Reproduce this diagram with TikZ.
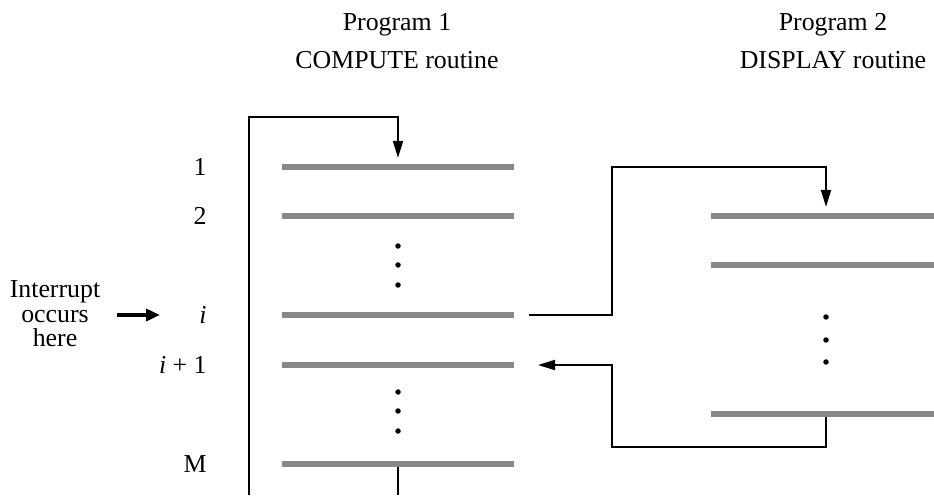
\documentclass[tikz,border=0pt]{standalone}
\usepackage{fontspec}
\setmainfont{Liberation Serif}
\usetikzlibrary{
  positioning,
  arrows.meta,
  calc
}
\definecolor{ctGray}{HTML}{888888}

\begin{document}
\begin{tikzpicture}[
  every node/.style={font=\fontsize{14.7}{14}\selectfont, align=center},
  codeline/.style={
    rectangle, fill=ctGray, inner sep=0pt,
    minimum height=0.11cm
  },
  lineA/.style={codeline, minimum width=4.64cm},
  lineB/.style={codeline, minimum width=4.46cm},
  numlbl/.style={anchor=east, inner sep=0pt},
  dotmark/.style={circle, fill=black, inner sep=0pt, minimum size=0.11cm},
  arrow/.style={-{Triangle[length=3.4mm, width=2mm]}, line width=1.1pt},
  link/.style={line width=1.1pt}
]
 \useasboundingbox (0,0) rectangle (18.68,9.9);

 % Headings
 \node (p1) at (7.94,9.4) {Program 1};
 \node (r1) at (7.94,8.7) {COMPUTE routine};
 \node (p2) at (16.66,9.4) {Program 2};
 \node (r2) at (16.66,8.7) {DISPLAY routine};

 % COMPUTE routine instructions
 \node[lineA] (a1) at (7.96,6.56) {};
 \node[lineA] (a2) at (7.96,5.58) {};
 \node[lineA] (ai) at (7.96,3.60) {};
 \node[lineA] (aj) at (7.96,2.60) {};
 \node[lineA] (aM) at (7.96,0.62) {};

 \node[numlbl] (n1) at (4.14,6.56) {1};
 \node[numlbl] (n2) at (4.14,5.58) {2};
 \node[numlbl] (ni) at (4.14,3.60) {\textit{i}};
 \node[numlbl] (nj) at (4.14,2.60) {\textit{i} + 1};
 \node[numlbl] (nM) at (4.14,0.62) {M};

 \foreach \y in {4.98, 4.60, 4.20, 2.06, 1.68, 1.28} {
  \node[dotmark] at (7.96,\y) {};
 }

 % DISPLAY routine instructions
 \node[lineB] (b1) at (16.45,5.58) {};
 \node[lineB] (b2) at (16.45,4.60) {};
 \node[lineB] (bN) at (16.45,1.62) {};

 \foreach \y in {3.56, 3.10, 2.66} {
  \node[dotmark] at (16.52,\y) {};
 }

 % Interrupt
 \node (intr) at (1.1,3.62) {Interrupt\\occurs\\here};
 \coordinate (intA) at (2.34,3.6);
 \coordinate (intB) at (3.2,3.6);
 \draw[-{Triangle[length=2.8mm, width=2.4mm]}, line width=2.3pt] (intA) -- (intB);

 % Program 1 loop
 \coordinate (loopB) at (4.98,0);
 \coordinate (loopT) at (4.98,7.56);
 \draw[arrow] (loopB) -- (loopT) -| ([yshift=0.12cm]a1.north);
 \draw[link] (aM.south) -- (aM.south |- loopB);

 % Branch to Program 2 and return
 \coordinate (outI) at (10.58,3.60);
 \coordinate (backI) at (10.76,2.60);
 \coordinate (jmpX) at (12.24,6.56);
 \coordinate (retY) at (12.24,0.96);
 \draw[arrow] (outI) -| (jmpX) -| ([yshift=0.12cm]b1.north -| 16.52,0);
 \draw[arrow] (bN.south -| 16.52,0) |- (retY) |- (backI);
\end{tikzpicture}
\end{document}
